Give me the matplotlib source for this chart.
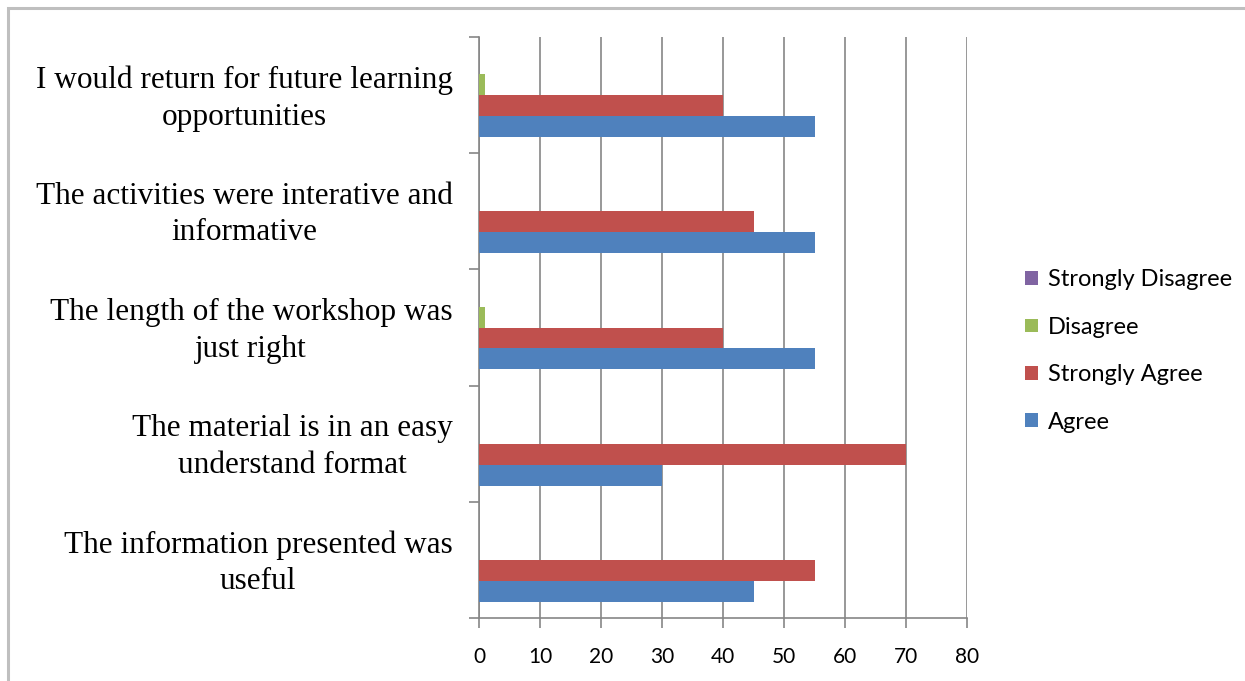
import matplotlib
matplotlib.use("Agg")
import matplotlib.pyplot as plt
from matplotlib.patches import Rectangle
from matplotlib.transforms import ScaledTranslation
import numpy as np

categories = [
    "The information presented was\nuseful",
    "The material is in an easy\nunderstand format",
    "The length of the workshop was\njust right",
    "The activities were interative and\ninformative",
    "I would return for future learning\nopportunities",
]
agree = [45, 30, 55, 55, 55]
strongly_agree = [55, 70, 40, 45, 40]
disagree = [0, 0, 1, 0, 1]
strongly_disagree = [0, 0, 0, 0, 0]
x_ticks = [0, 10, 20, 30, 40, 50, 60, 70, 80]

series = [
    ("Agree", agree, "#4F81BD"),
    ("Strongly Agree", strongly_agree, "#C0504D"),
    ("Disagree", disagree, "#9BBB59"),
    ("Strongly Disagree", strongly_disagree, "#8064A2"),
]

fig = plt.figure(figsize=(12.45, 6.81), dpi=100)
fig.patches.append(Rectangle((8/1245, -0.05), 1.1, (681-8)/681 + 0.05, transform=fig.transFigure,
                             fill=False, edgecolor="#BFBFBF", linewidth=2.2, zorder=0))
ax = fig.add_axes([479/1245, (681-618)/681, (967-479)/1245, (618-37)/681])

y = np.arange(len(categories))
h = 0.18
offsets = [-0.27, -0.09, 0.09, 0.27]
handles = []
for (name, vals, col), off in zip(series, offsets):
    b = ax.barh(y + off, vals, height=h, color=col, label=name, zorder=3)
    handles.append(b)

ax.set_xlim(0, 80)
ax.set_ylim(-0.5, len(categories) - 0.5)
ax.set_xticks(x_ticks)
ax.set_xticklabels([str(t) for t in x_ticks], fontsize=15, family="Lato")
ax.set_yticks(y)
ax.set_yticklabels(categories, fontsize=22.5, family="Liberation Serif", multialignment="center",
                   linespacing=1.35)
ax.set_yticks(np.arange(-0.5, len(categories), 1.0), minor=True)
ax.tick_params(axis="y", which="major", length=0, pad=19)
ax.tick_params(axis="y", which="minor", length=7, color="#868686", width=1.2)
ax.tick_params(axis="x", which="major", length=7, color="#868686", width=1.2, pad=14)
shift = ScaledTranslation(0, 4/100, fig.dpi_scale_trans)
for lab in ax.get_yticklabels():
    lab.set_transform(lab.get_transform() + shift)

ax.grid(axis="x", color="#868686", linewidth=1.2, zorder=0)
for s in ["top", "right"]:
    ax.spines[s].set_visible(False)
for s in ["left", "bottom"]:
    ax.spines[s].set_color("#868686")
    ax.spines[s].set_linewidth(1.2)

leg = fig.legend(handles[::-1], [s[0] for s in series][::-1], loc="center left",
                 bbox_to_anchor=(1004/1245, 330/681), frameon=False,
                 prop={"family": "Lato", "size": 17}, handlelength=0.52, handleheight=0.52,
                 handletextpad=0.45, labelspacing=1.12)

fig.savefig("out.png", dpi=100)
